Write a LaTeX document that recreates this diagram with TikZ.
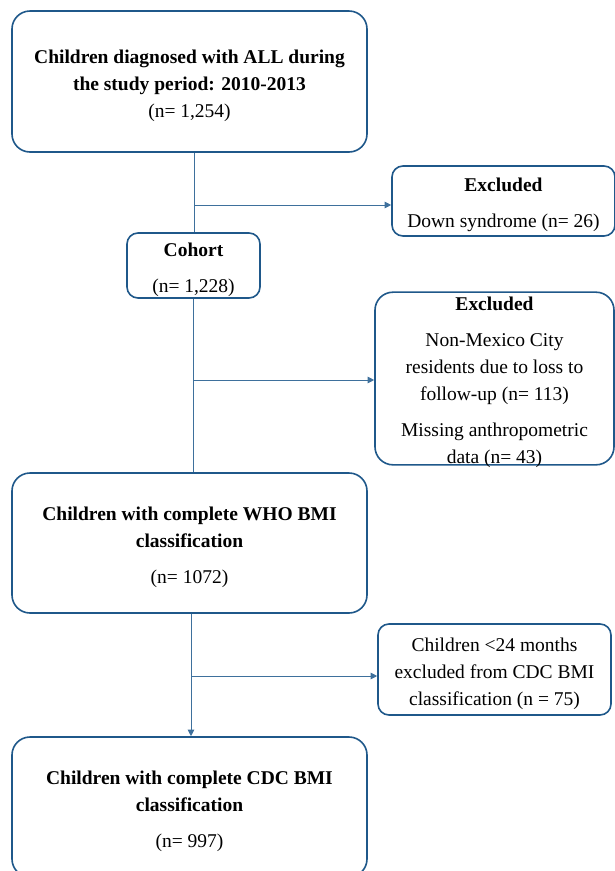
\documentclass[tikz,border=0pt]{standalone}
\usepackage{fontspec}
\setmainfont{Liberation Serif}
\usetikzlibrary{arrows.meta,positioning,calc}
\definecolor{boxblue}{RGB}{31,88,138}
\definecolor{linkblue}{RGB}{62,112,156}
\newcommand{\topgap}{\rule{0pt}{21.5pt}}

\begin{document}
\begin{tikzpicture}[
  x=1pt, y=-1pt,
  font=\fontsize{19.5}{27}\selectfont,
  box/.style={draw=boxblue, line width=1.6pt, rounded corners=18pt, align=center,
              inner sep=0pt, fill=white},
  smallbox/.style={box, rounded corners=11pt},
  link/.style={draw=linkblue, line width=1pt},
  arr/.style={link, -{Triangle[length=6.5pt, width=6.5pt]}}
]
\useasboundingbox (0,0) rectangle (615,871);

% ---------- main column ----------
\node[box, minimum width=355pt, minimum height=141pt] (all) at (189.5,81.5)
  {\topgap\textbf{Children diagnosed with ALL during}\\
   \textbf{the study period: 2010-2013}\\
   (n= 1,254)};
\node[smallbox, minimum width=133pt, minimum height=65pt] (cohort) at (193.5,265.5)
  {\topgap\textbf{Cohort}\\[9pt]
   (n= 1,228)};
\node[box, minimum width=355pt, minimum height=140pt] (who) at (189.5,543)
  {\topgap\textbf{Children with complete WHO BMI}\\
   \textbf{classification}\\[9pt]
   (n= 1072)};
\node[box, minimum width=355pt, minimum height=140pt] (cdc) at (189.5,807)
  {\topgap\textbf{Children with complete CDC BMI}\\
   \textbf{classification}\\[9pt]
   (n= 997)};

% ---------- exclusions ----------
\node[smallbox, minimum width=223pt, minimum height=70pt] (down) at (503.5,201)
  {\topgap\textbf{Excluded}\\[9pt]
   Down syndrome (n= 26)};
\node[box, minimum width=239pt, inner ysep=-3pt] (nonres) at (494.5,378.5)
  {\topgap\textbf{Excluded}\\[9pt]
   Non-Mexico City\\
   residents due to loss to\\
   follow-up (n= 113)\\[9pt]
   Missing anthropometric\\
   data (n= 43)};
\node[smallbox, minimum width=233pt, minimum height=91pt] (young) at (494.5,669.5)
  {\topgap Children <24 months\\
   excluded from CDC BMI\\
   classification (n = 75)};

% ---------- connectors ----------
\coordinate (j1) at (194.5,205);
\coordinate (j2) at (193.5,380);
\coordinate (j3) at (191,676);

\draw[link] (all.south -| j1) -- (j1 |- cohort.north);
\draw[link] (cohort.south) -- (cohort.south |- who.north);
\draw[arr] (who.south -| j3) -- (j3 |- cdc.north);

\draw[arr] (j1) -- (j1 -| down.west);
\draw[arr] (j2) -- (j2 -| nonres.west);
\draw[arr] (j3) -- (j3 -| young.west);

\end{tikzpicture}
\end{document}
